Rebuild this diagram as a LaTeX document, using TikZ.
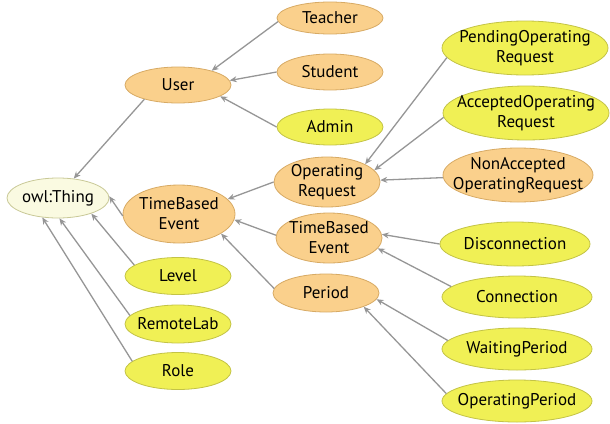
\documentclass[tikz,border=0pt]{standalone}
\usepackage{fontspec}
\setmainfont{PT Sans}
\usetikzlibrary{shapes.geometric,arrows.meta}
\definecolor{orfill}{RGB}{250,208,140}
\definecolor{ordraw}{RGB}{215,170,100}
\definecolor{yefill}{RGB}{240,240,85}
\definecolor{yedraw}{RGB}{195,195,70}
\definecolor{thfill}{RGB}{250,250,225}
\definecolor{thdraw}{RGB}{200,200,150}
\definecolor{edgec}{RGB}{150,150,150}
\tikzset{
  lbl/.style={inner sep=0pt, font=\fontsize{17}{20}\selectfont, align=center},
  cls/.style={ellipse, inner sep=0pt, line width=0.8pt},
  txt/.style={label={[lbl]center:#1}},
  orn/.style={cls, fill=orfill, draw=ordraw},
  yel/.style={cls, fill=yefill, draw=yedraw},
  thn/.style={cls, fill=thfill, draw=thdraw},
  sz/.style 2 args={minimum width=#1pt, minimum height=#2pt},
  isa/.style={draw=edgec, line width=1.3pt, -{Stealth[length=7pt,width=6pt]}}
}
\begin{document}
\begin{tikzpicture}[x=1pt,y=-1pt]
\useasboundingbox (0,0) rectangle (610,423);
\node[thn, sz={102}{40}, txt={owl:Thing}] (thing) at (58,198) {};
\node[orn, sz={106}{36}, txt={User}] (user) at (178,85) {};
\node[orn, sz={112}{58}, txt={TimeBased\\Event}] (tbe) at (179,214) {};
\node[yel, sz={106}{37}, txt={Level}] (level) at (178,276) {};
\node[yel, sz={106}{38}, txt={RemoteLab}] (rlab) at (178,324) {};
\node[yel, sz={106}{37}, txt={Role}] (role) at (178,371) {};
\node[orn, sz={106}{32}, txt={Teacher}] (teacher) at (330,18) {};
\node[orn, sz={106}{36}, txt={Student}] (student) at (330,72) {};
\node[yel, sz={106}{36}, txt={Admin}] (admin) at (330,127) {};
\node[orn, sz={106}{50}, txt={Operating\\Request}] (opreq) at (327,182) {};
\node[orn, sz={106}{50}, txt={TimeBased\\Event}] (tbe2) at (329,238) {};
\node[orn, sz={106}{38}, txt={Period}] (period) at (326,293) {};
\node[yel, sz={166}{54}, txt={PendingOperating\\Request}] (pend) at (525,48) {};
\node[yel, sz={166}{54}, txt={AcceptedOperating\\Request}] (acc) at (526,113) {};
\node[orn, sz={150}{54}, txt={NonAccepted\\OperatingRequest}] (nonacc) at (518,175) {};
\node[yel, sz={150}{44}, txt={Disconnection}] (disc) at (515,244) {};
\node[yel, sz={150}{42}, txt={Connection}] (conn) at (517,297) {};
\node[yel, sz={150}{42}, txt={WaitingPeriod}] (wait) at (517,349) {};
\node[yel, sz={150}{42}, txt={OperatingPeriod}] (operp) at (517,401) {};

\draw[isa] (user.-157) -- (thing.51);
\draw[isa] (tbe.182) -- (thing.2);
\draw[isa] (level.166) -- (thing.-25);
\draw[isa] (rlab.170) -- (thing.-86);
\draw[isa] (role.168) -- (thing.-129);
\draw[isa] (teacher.-176) -- (user.23);
\draw[isa] (student.180) -- (user.5);
\draw[isa] (admin.180) -- (user.-15);
\draw[isa] (opreq.180) -- (tbe.17);
\draw[isa] (tbe2.177) -- (tbe.-6);
\draw[isa] (period.175) -- (tbe.-25);
\draw[isa] (pend.-173) -- (opreq.25);
\draw[isa] (acc.-177) -- (opreq.14);
\draw[isa] (nonacc.182) -- (opreq.2);
\draw[isa] (disc.180) -- (tbe2.4);
\draw[isa] (conn.171) -- (tbe2.-12);
\draw[isa] (wait.173) -- (period.-7);
\draw[isa] (operp.174) -- (period.-20);
\end{tikzpicture}
\end{document}
